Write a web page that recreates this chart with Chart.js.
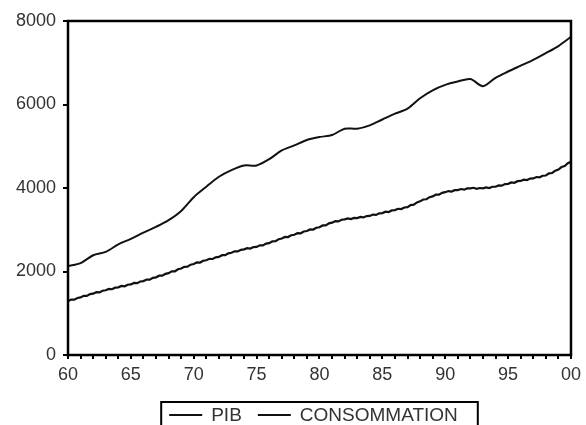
<!DOCTYPE html>
<html>
<head>
<meta charset="utf-8">
<script src="https://cdn.jsdelivr.net/npm/chart.js@4/dist/chart.umd.min.js"></script>
<style>
  html, body { margin: 0; padding: 0; background: #fff; }
  #wrap { width: 586px; height: 425px; }
</style>
</head>
<body>
<div id="wrap"><canvas id="chart" width="586" height="425"></canvas></div>
<script>
// annual PIB, 1960 .. 2000
const pibYears = [1960, 1961, 1962, 1963, 1964, 1965, 1966, 1967, 1968, 1969,
  1970, 1971, 1972, 1973, 1974, 1975, 1976, 1977, 1978, 1979,
  1980, 1981, 1982, 1983, 1984, 1985, 1986, 1987, 1988, 1989,
  1990, 1991, 1992, 1993, 1994, 1995, 1996, 1997, 1998, 1999, 2000];
const pibValues = [2130, 2200, 2390, 2470, 2650, 2780, 2930, 3070, 3230, 3450,
  3780, 4030, 4270, 4430, 4540, 4540, 4690, 4900, 5020, 5150,
  5220, 5270, 5420, 5420, 5500, 5640, 5780, 5900, 6150, 6340,
  6470, 6550, 6610, 6440, 6640, 6790, 6930, 7070, 7230, 7400, 7620];

// quarterly consommation, 1960Q1 .. 2000Q1
const consoStartYear = 1960;
const consoValues = [
  1290, 1327, 1325, 1367,  1380, 1417, 1415, 1458,  1470, 1505, 1500, 1540,
  1550, 1583, 1575, 1613,  1620, 1653, 1645, 1683,  1690, 1725, 1720, 1760,
  1770, 1807, 1805, 1848,  1860, 1900, 1900, 1945,  1960, 2003, 2005, 2053,
  2070, 2113, 2115, 2163,  2180, 2217, 2215, 2258,  2270, 2305, 2300, 2340,
  2350, 2390, 2390, 2435,  2450, 2485, 2480, 2520,  2530, 2560, 2550, 2585,
  2590, 2627, 2625, 2668,  2680, 2723, 2725, 2773,  2790, 2827, 2825, 2868,
  2880, 2917, 2915, 2958,  2970, 3007, 3005, 3048,  3060, 3103, 3105, 3153,
  3170, 3205, 3200, 3240,  3250, 3272, 3255, 3283,  3280, 3307, 3295, 3328,
  3330, 3363, 3355, 3393,  3400, 3433, 3425, 3463,  3470, 3503, 3495, 3533,
  3540, 3590, 3600, 3655,  3680, 3725, 3730, 3780,  3800, 3840, 3840, 3885,
  3900, 3927, 3915, 3948,  3950, 3975, 3960, 3990,  3990, 4005, 3980, 4000,
  3990, 4015, 4000, 4030,  4030, 4063, 4055, 4093,  4100, 4133, 4125, 4163,
  4170, 4200, 4190, 4225,  4230, 4263, 4255, 4293,  4300, 4350, 4360, 4415,
  4440, 4502, 4525, 4592,  4630];

const yTicks = [0, 2000, 4000, 6000, 8000];
const seriesNames = ['PIB', 'CONSOMMATION'];

const FONT = 'Liberation Sans, Arial, sans-serif';
const TEXT = '#333';

const pibData = pibYears.map((yr, i) => ({ x: yr, y: pibValues[i] }));
const consoData = consoValues.map((v, i) => ({ x: consoStartYear + i / 4, y: v }));

// frame around the plot + boxed legend under the axis
const framePlugin = {
  id: 'frame',
  afterDraw(chart) {
    const { ctx, chartArea: a } = chart;
    ctx.save();
    ctx.strokeStyle = '#000';
    ctx.lineWidth = 2.5;
    ctx.strokeRect(a.left, a.top, a.right - a.left, a.bottom - a.top);

    // legend
    ctx.font = '19px ' + FONT;
    ctx.textBaseline = 'middle';
    const lineLen = 33, gap = 9, itemGap = 16, padL = 8, padR = 20;
    const items = chart.data.datasets.map(ds => ({
      ds, w: lineLen + gap + ctx.measureText(ds.label).width
    }));
    const total = items.reduce((s, it) => s + it.w, 0) + itemGap * (items.length - 1);
    const boxW = total + padL + padR;
    const cx = (a.left + a.right) / 2;
    const boxL = cx - boxW / 2;
    const boxT = a.bottom + 47;
    const midY = boxT + 13;
    ctx.lineWidth = 2;
    ctx.strokeRect(boxL, boxT, boxW, 30);
    let x = boxL + padL;
    items.forEach(it => {
      ctx.strokeStyle = it.ds.borderColor;
      ctx.lineWidth = it.ds.borderWidth;
      ctx.beginPath();
      ctx.moveTo(x, midY);
      ctx.lineTo(x + lineLen, midY);
      ctx.stroke();
      ctx.fillStyle = TEXT;
      ctx.fillText(it.ds.label, x + lineLen + gap, midY + 1);
      x += it.w + itemGap;
    });
    ctx.restore();
  }
};

new Chart(document.getElementById('chart').getContext('2d'), {
  type: 'line',
  data: {
    datasets: [
      {
        label: seriesNames[0],
        data: pibData,
        borderColor: '#111',
        borderWidth: 2,
        pointRadius: 0,
        tension: 0.3,
        fill: false
      },
      {
        label: seriesNames[1],
        data: consoData,
        borderColor: '#111',
        borderWidth: 2.2,
        pointRadius: 0,
        tension: 0,
        fill: false
      }
    ]
  },
  options: {
    responsive: false,
    animation: false,
    layout: { padding: { top: 21, right: 13, left: 0, bottom: 0 } },
    plugins: {
      legend: { display: false },
      tooltip: { enabled: false }
    },
    scales: {
      x: {
        type: 'linear',
        min: 1960,
        max: 2000,
        afterFit: (s) => { s.height = 70; },
        afterBuildTicks: (s) => {
          s.ticks = pibYears.map(v => ({ value: v }));
        },
        border: { display: false },
        grid: {
          drawOnChartArea: false,
          drawTicks: true,
          tickLength: 4,
          color: '#000',
          lineWidth: 2
        },
        ticks: {
          autoSkip: false,
          maxRotation: 0,
          padding: 5,
          color: TEXT,
          font: { family: FONT, size: 18 },
          callback: (v) => (v % 5 === 0 ? String(v % 100).padStart(2, '0') : '')
        }
      },
      y: {
        min: 0,
        max: 8000,
        afterFit: (s) => { s.width = 68; },
        afterBuildTicks: (s) => {
          s.ticks = yTicks.map(v => ({ value: v }));
        },
        border: { display: false },
        grid: {
          drawOnChartArea: false,
          drawTicks: true,
          tickLength: 5,
          color: '#000',
          lineWidth: 2
        },
        ticks: {
          padding: 7,
          color: TEXT,
          font: { family: FONT, size: 18 },
          callback: (v) => String(v)
        }
      }
    }
  },
  plugins: [framePlugin]
});
</script>
</body>
</html>
